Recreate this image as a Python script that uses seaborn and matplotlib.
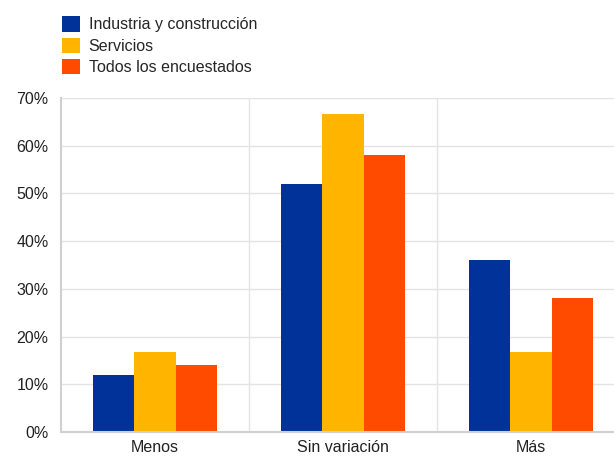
import pandas as pd
import numpy as np
import seaborn as sns
import matplotlib.pyplot as plt
from matplotlib.ticker import PercentFormatter, FixedLocator

categories = ['Menos', 'Sin variación', 'Más']
series = ['Industria y construcción', 'Servicios', 'Todos los encuestados']
industria = [12.0, 52.0, 36.0]
servicios = [16.7, 66.7, 16.7]
todos = [14.0, 58.0, 28.0]
colors = ['#003299', '#FFB400', '#FF4B00']

df = pd.DataFrame({
    'cat': categories * 3,
    'serie': np.repeat(series, 3),
    'valor': industria + servicios + todos,
})

sns.set_style('white')
plt.rcParams['font.family'] = ['Liberation Sans', 'DejaVu Sans']

fig = plt.figure(figsize=(6.14, 4.59), dpi=100)
ax = fig.add_axes([61 / 614, 27 / 459, 564 / 614, 334 / 459])

sns.barplot(data=df, x='cat', y='valor', hue='serie', palette=colors,
            width=0.66, saturation=1, linewidth=0, edgecolor='none',
            ax=ax, legend=True)

ax.set_ylim(0, 70)
ax.set_xlim(-0.5, 2.5)
ax.set_yticks(range(0, 71, 10))
ax.yaxis.set_major_formatter(PercentFormatter(decimals=0))
ax.xaxis.set_minor_locator(FixedLocator([0.5, 1.5]))
ax.grid(axis='y', color='#e4e4e4', linewidth=1)
ax.grid(axis='x', which='minor', color='#e4e4e4', linewidth=1)
ax.set_axisbelow(True)
ax.set_xlabel('')
ax.set_ylabel('')
ax.tick_params(axis='both', which='both', length=0, labelsize=11.5, colors='#222222')
ax.tick_params(axis='y', pad=9)
ax.tick_params(axis='x', pad=6)
for s in ['top', 'right']:
    ax.spines[s].set_visible(False)
for s in ['left', 'bottom']:
    ax.spines[s].set_color('#d0d0d0')
    ax.spines[s].set_linewidth(1.5)

handles, labels = ax.get_legend_handles_labels()
ax.legend_.remove()
fig.legend(handles, labels, loc='upper left', bbox_to_anchor=(56 / 614, 1 - 10 / 459),
           frameon=False, fontsize=11.5, handlelength=1.1, handleheight=1.1,
           handletextpad=0.55, labelspacing=0.32, borderaxespad=0)

fig.savefig('out.png', dpi=100)
